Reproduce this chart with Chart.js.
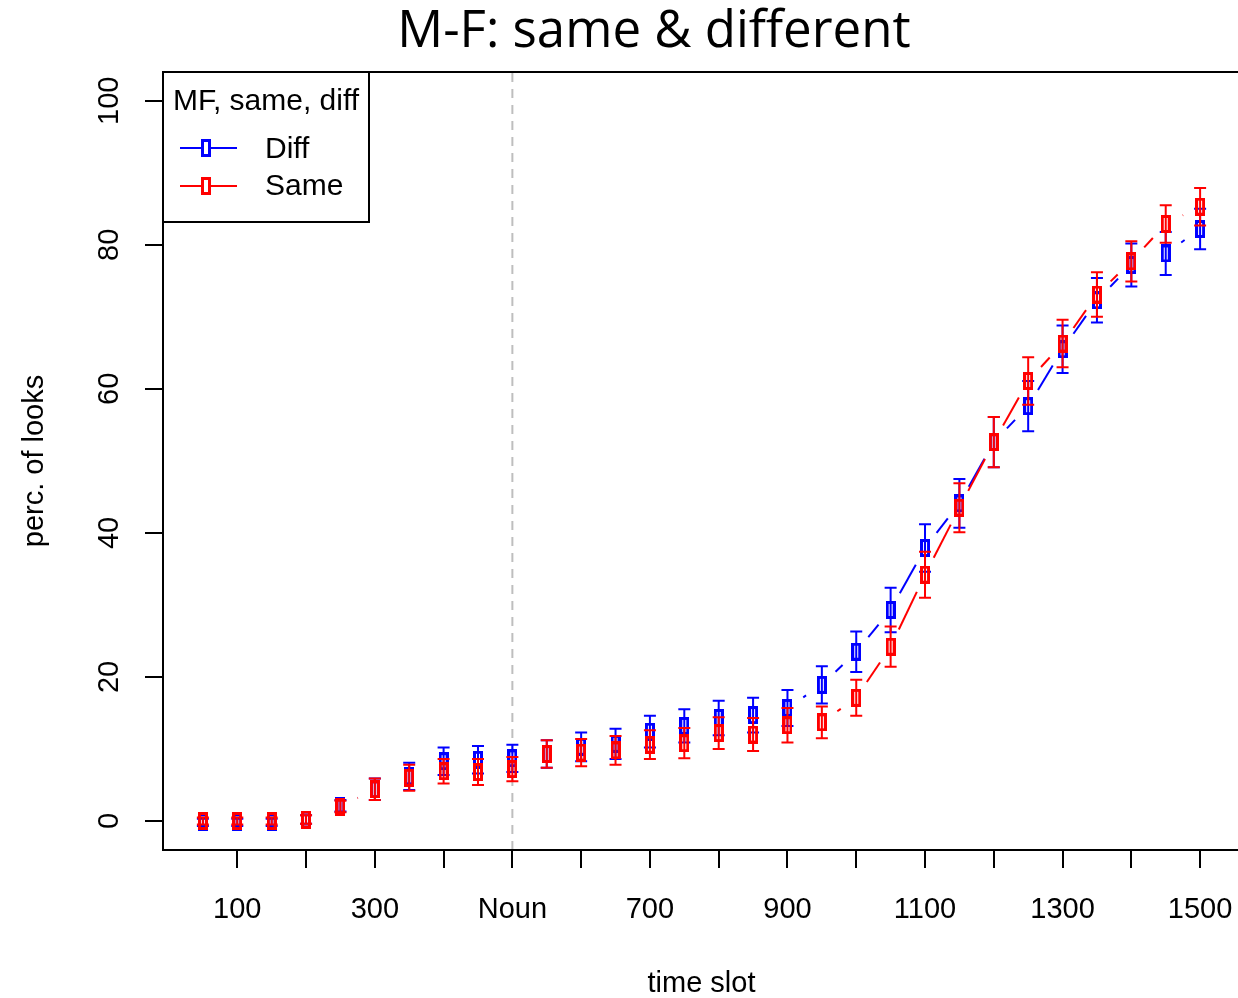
<!DOCTYPE html>
<html>
<head>
<meta charset="utf-8">
<script src="https://cdn.jsdelivr.net/npm/chart.js@4/dist/chart.umd.min.js"></script>
<style>
html,body{margin:0;padding:0;background:#fff;overflow:hidden;width:1238px;height:998px;}
#wrap{position:absolute;left:0;top:0;width:1260px;height:998px;}
</style>
</head>
<body>
<div id="wrap"><canvas id="c" width="1260" height="998"></canvas></div>
<script>
// ---------- data ----------
const timeSlots = [50,100,150,200,250,300,350,400,450,500,550,600,650,700,750,800,850,900,950,1000,1050,1100,1150,1200,1250,1300,1350,1400,1450,1500];
const diffMean = [-0.2,-0.2,-0.2,0.2,2.1,4.4,6.2,8.3,8.5,8.7,9.3,10.3,10.7,12.4,13.2,14.3,14.7,15.7,18.9,23.5,29.3,37.9,44.1,52.6,57.6,65.5,72.3,77.2,78.8,82.2];
const diffErr  = [0.5,0.5,0.5,0.6,0.8,1.5,1.9,1.9,1.9,1.9,1.9,2.0,2.1,2.2,2.3,2.4,2.4,2.5,2.6,2.8,3.1,3.3,3.4,3.5,3.5,3.3,3.1,3.0,3.0,2.8];
const sameMean = [0,0,0,0.2,2.0,4.4,6.0,6.9,6.8,7.2,9.3,9.5,9.8,10.6,10.8,12.2,12.0,13.3,13.7,17.1,24.2,34.2,43.5,52.6,61.1,66.3,73.1,77.7,82.9,85.3];
const sameErr  = [0.5,0.5,0.5,0.6,0.8,1.5,1.8,1.7,1.8,1.7,1.9,1.9,2.0,2.0,2.1,2.2,2.3,2.4,2.2,2.5,2.8,3.2,3.4,3.5,3.3,3.3,3.1,2.8,2.6,2.6];
const xTickValues = [100,200,300,400,500,600,700,800,900,1000,1100,1200,1300,1400,1500];
const xTickLabels = ['100','','300','','Noun','','700','','900','','1100','','1300','','1500'];
const yTickValues = [0,20,40,60,80,100];
const yTickLabels = ['0','20','40','60','80','100'];
const nounOnset = 500;
const seriesNames = ['Diff','Same'];
const seriesColors = ['#0000FF','#FF0000'];
const chartTitle = 'M-F: same & different';
const legendTitle = 'MF, same, diff';
const xTitle = 'time slot';
const yTitle = 'perc. of looks';

// ---------- styling ----------
const ARIAL = '"Liberation Sans", Arial, sans-serif';
const FS = 29;
const LFS = 30;
const GAP = 19;

function makeBox(color){
  const c = document.createElement('canvas');
  c.width = 10; c.height = 18;
  const g = c.getContext('2d');
  g.strokeStyle = color; g.lineWidth = 3;
  g.strokeRect(1.5,1.5,7,15);
  return c;
}
const boxes = seriesColors.map(makeBox);

function toPts(ys){ return timeSlots.map((x,i)=>({x:x,y:ys[i]})); }

const datasets = [
  {label:seriesNames[0], data:toPts(diffMean), errs:diffErr, color:seriesColors[0], order:2},
  {label:seriesNames[1], data:toPts(sameMean), errs:sameErr, color:seriesColors[1], order:1}
].map(d=>Object.assign(d,{
  showLine:false, borderColor:d.color, backgroundColor:d.color,
  pointStyle: boxes[seriesColors.indexOf(d.color)], pointRadius:5, pointHoverRadius:5
}));

const rPlugin = {
  id:'rplot',
  beforeDatasetsDraw(chart){
    const ctx = chart.ctx, a = chart.chartArea, xs = chart.scales.x;
    const px = xs.getPixelForValue(nounOnset);
    ctx.save();
    ctx.strokeStyle = '#BEBEBE'; ctx.lineWidth = 2; ctx.setLineDash([9,7]);
    ctx.beginPath(); ctx.moveTo(px, a.bottom); ctx.lineTo(px, a.top); ctx.stroke();
    ctx.restore();
  },
  beforeDatasetDraw(chart, args){
    const ctx = chart.ctx, ds = chart.data.datasets[args.index], meta = args.meta;
    const ys = chart.scales.y;
    const pts = meta.data;
    ctx.save();
    ctx.strokeStyle = ds.color; ctx.lineWidth = 2; ctx.lineCap = 'butt';
    // type "b" lines with gaps at points
    for (let i=0;i<pts.length-1;i++){
      const p0 = pts[i], p1 = pts[i+1];
      const dx = p1.x-p0.x, dy = p1.y-p0.y, d = Math.hypot(dx,dy);
      if (d <= 2*GAP) continue;
      const ux = dx/d, uy = dy/d;
      ctx.beginPath();
      ctx.moveTo(p0.x+ux*GAP, p0.y+uy*GAP);
      ctx.lineTo(p1.x-ux*GAP, p1.y-uy*GAP);
      ctx.stroke();
    }
    // error bars
    ds.data.forEach((pt,i)=>{
      const x = pts[i].x;
      const t = ys.getPixelForValue(pt.y + ds.errs[i]);
      const b = ys.getPixelForValue(pt.y - ds.errs[i]);
      ctx.beginPath();
      ctx.moveTo(x,t); ctx.lineTo(x,b);
      ctx.moveTo(x-6,t); ctx.lineTo(x+6,t);
      ctx.moveTo(x-6,b); ctx.lineTo(x+6,b);
      ctx.stroke();
    });
    ctx.restore();
  },
  afterDraw(chart){
    const ctx = chart.ctx, a = chart.chartArea, xs = chart.scales.x, ys = chart.scales.y;
    ctx.save();
    // box
    ctx.strokeStyle = '#000'; ctx.lineWidth = 2;
    ctx.strokeRect(a.left, a.top, a.right-a.left, a.bottom-a.top);
    ctx.fillStyle = '#000';
    ctx.font = FS+'px '+ARIAL;
    // x tick labels
    ctx.textAlign = 'center'; ctx.textBaseline = 'alphabetic';
    xTickValues.forEach((v,i)=>{ if (xTickLabels[i]) ctx.fillText(xTickLabels[i], xs.getPixelForValue(v), 918); });
    // y tick labels (rotated)
    yTickValues.forEach((v,i)=>{
      ctx.save(); ctx.translate(118, ys.getPixelForValue(v)); ctx.rotate(-Math.PI/2);
      ctx.fillText(yTickLabels[i], 0, 0); ctx.restore();
    });
    // axis titles
    ctx.fillText(xTitle, (a.left+a.right)/2, 992);
    ctx.save(); ctx.translate(43,(a.top+a.bottom)/2); ctx.rotate(-Math.PI/2);
    ctx.fillText(yTitle, 0, 0); ctx.restore();
    // main title
    ctx.font = '51px "Open Sans", "Noto Sans", sans-serif';
    ctx.fillText(chartTitle, 654, 47);
    // legend
    ctx.fillStyle = '#fff';
    ctx.fillRect(a.left, a.top, 369-a.left, 222-a.top);
    ctx.strokeStyle = '#000'; ctx.lineWidth = 2;
    ctx.strokeRect(a.left, a.top, 369-a.left, 222-a.top);
    ctx.fillStyle = '#000';
    ctx.font = LFS+'px '+ARIAL;
    ctx.textAlign = 'center';
    ctx.fillText(legendTitle, 266, 110);
    ctx.textAlign = 'left';
    const ly = [148, 186], lb = [158, 195];
    seriesNames.forEach((n,i)=>{
      ctx.strokeStyle = seriesColors[i]; ctx.lineWidth = 2;
      ctx.beginPath(); ctx.moveTo(180, ly[i]); ctx.lineTo(237, ly[i]); ctx.stroke();
      ctx.fillStyle = '#fff'; ctx.fillRect(201, ly[i]-8, 8, 16);
      ctx.drawImage(boxes[i], 201, ly[i]-9);
      ctx.fillStyle = '#000';
      ctx.fillText(n, 265, lb[i]);
    });
    ctx.restore();
  }
};

new Chart(document.getElementById('c'), {
  type:'scatter',
  data:{datasets:datasets},
  options:{
    responsive:false, animation:false, devicePixelRatio:1,
    layout:{padding:{top:72,left:0,right:20,bottom:0}},
    plugins:{legend:{display:false}, title:{display:false}, tooltip:{enabled:false}},
    scales:{
      x:{type:'linear', min:-8, max:1558,
        afterBuildTicks(s){ s.ticks = xTickValues.map(v=>({value:v})); },
        afterFit(s){ s.height = 148; },
        ticks:{display:false, autoSkip:false},
        grid:{drawOnChartArea:false, drawTicks:true, tickLength:18, color:'#000', lineWidth:2},
        border:{display:false}
      },
      y:{type:'linear', min:-4.03, max:104,
        afterBuildTicks(s){ s.ticks = yTickValues.map(v=>({value:v})); },
        afterFit(s){ s.width = 163; },
        ticks:{display:false},
        grid:{drawOnChartArea:false, drawTicks:true, tickLength:18, color:'#000', lineWidth:2},
        border:{display:false}
      }
    }
  },
  plugins:[rPlugin]
});
</script>
</body>
</html>
